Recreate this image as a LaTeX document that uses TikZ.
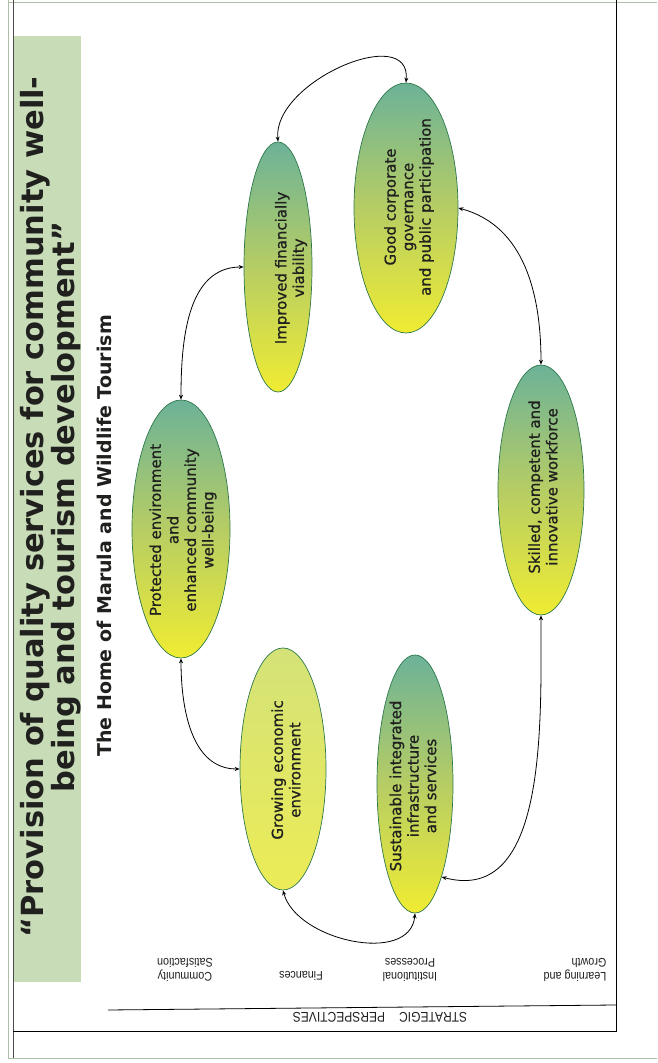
\documentclass[tikz,border=0pt]{standalone}
\usepackage{fontspec}
\setmainfont{DejaVu Sans}
\newfontfamily\goalfont[FakeBold=0.9]{DejaVu Sans}
\newfontfamily\narrowfont[FakeStretch=0.86]{Liberation Sans}
\usepackage{tikz}
\usetikzlibrary{shapes.geometric,arrows.meta}
\definecolor{bandgreen}{RGB}{200,221,183}
\definecolor{goaltop}{RGB}{108,178,152}
\definecolor{goalmid}{RGB}{182,205,100}
\definecolor{goalbot}{RGB}{240,236,50}
\definecolor{econtop}{RGB}{212,226,120}
\definecolor{econbot}{RGB}{236,236,86}
\definecolor{goalline}{RGB}{46,120,76}
\definecolor{framegray}{RGB}{175,190,168}
\definecolor{inktext}{RGB}{32,32,30}
\tikzset{
  goal/.style={ellipse, draw=goalline, line width=0.7pt, inner sep=0pt,
    top color=goaltop, bottom color=goalbot, middle color=goalmid},
  econgoal/.style={goal, top color=econtop, bottom color=econbot,
    middle color=econtop!50!econbot},
  goaltext/.style={rotate=90, align=center, text=inktext,
    font=\goalfont\fontsize{15}{17.5}\selectfont},
  perspective/.style={rotate=180, align=center, text=inktext,
    font=\narrowfont\fontsize{12.5}{14.5}\selectfont},
  link/.style={{Stealth[length=5pt,width=4pt]}-{Stealth[length=5pt,width=4pt]}, line width=0.8pt}
}
\newcommand{\goalnode}[5][goal] {\node at (#2) (#3) [#1, minimum width=#4pt, minimum height=#5pt] {};}
\newcommand{\goaltext}[3] {\node at (#1) (#2) [goaltext] {#3};}
\newcommand{\linkgoals}[3] {\draw [link] (#1) to [#3] (#2);}

\begin{document}
\begin{tikzpicture}[x=1pt, y=1pt]
\useasboundingbox (0,0) rectangle (657,1063);

% page frame
\draw [framegray, line width=0.8pt] (8,1063) -- (8,5) -- (657,5);
\draw [framegray, line width=0.6pt] (8,1061) -- (657,1061);
\draw [black!70, line width=0.7pt] (13,1063) -- (13,5);
\draw [line width=1pt] (13,31) -- (616,31) -- (616,1063);

% title band
\fill [bandgreen] (14,81) rectangle (81,1027);
\node at (51,556) (title) [rotate=90, align=center, text=inktext,
  font=\bfseries\fontsize{30.5}{29}\selectfont]
  {``Provision of quality services for community well-\\being and tourism development''};
\node at (104,527) (vision) [rotate=90, text=inktext, font=\bfseries\fontsize{19}{22}\selectfont]
  {The Home of Marula and Wildlife Tourism};

% strategic objectives
\goalnode {278,796}{fin}{68}{250};
\goalnode {406,855}{gov}{104}{250};
\goalnode {181,534}{env}{98}{258};
\goalnode {541,573}{skill}{86}{250};
\goalnode[econgoal] {283,294}{econ}{86}{242};
\goalnode {415,279}{infra}{76}{258};

\goaltext {291,795}{fintext}{Improved financially\\viability};
\goaltext {409,856}{govtext}{Good corporate\\governance\\and public participation};
\goaltext {183,533}{envtext}{Protected environment\\and\\enhanced community\\well-being};
\goaltext {543,576}{skilltext}{Skilled, competent and\\innovative workforce};
\goaltext {286,293}{econtext}{Growing economic\\environment};
\goaltext {413,277}{infratext}{Sustainable integrated\\infrastructure\\and services};

\linkgoals{fin.north}{gov.north}{out=95, in=85, looseness=1.1};
\linkgoals{gov.east}{skill.north}{out=-15, in=90};
\linkgoals{skill.south}{infra.-74}{out=-90, in=-15};
\linkgoals{infra.south}{econ.south}{out=-95, in=-75};
\linkgoals{econ.west}{env.south}{out=180, in=-90};
\linkgoals{env.north}{fin.west}{out=90, in=180};

% perspectives
\draw [line width=0.8pt] (108,53) -- (616,58);
\node at (380,46) (strategic) [perspective, font=\narrowfont\fontsize{14}{16}\selectfont]
  {STRATEGIC\quad PERSPECTIVES};
\node at (185,93) (community) [perspective] {Community\\Satisfaction};
\node at (301,87) (finances) [perspective] {Finances};
\node at (410,93) (institutional) [perspective] {Institutional\\Processes};
\node at (575,93) (learning) [perspective, align=left] {Learning and\\Growth};

\end{tikzpicture}
\end{document}
